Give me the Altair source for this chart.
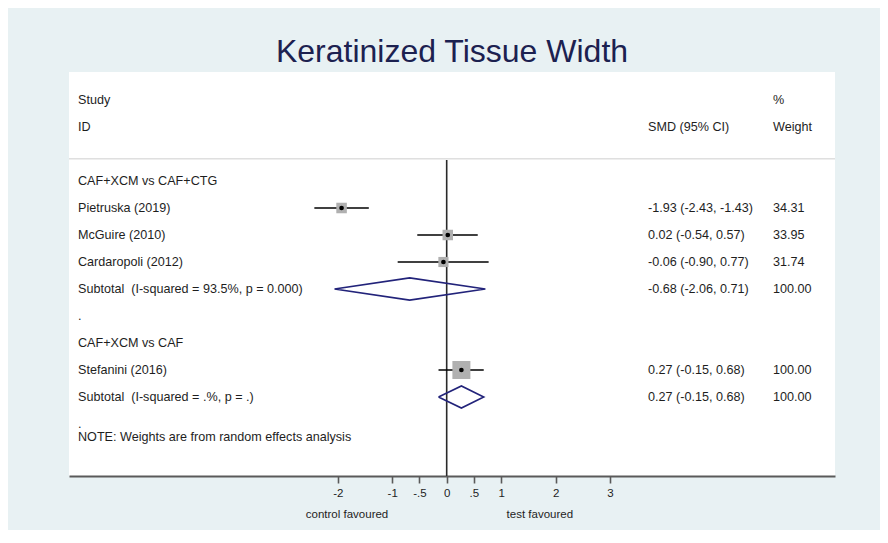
import altair as alt
import pandas as pd

# ---- data ----
title_text = "Keratinized Tissue Width"
groups = ["CAF+XCM vs CAF+CTG", "CAF+XCM vs CAF"]
studies = ["Pietruska (2019)", "McGuire (2010)", "Cardaropoli (2012)", "Stefanini (2016)"]
study_group = [0, 0, 0, 1]
smd = [-1.93, 0.02, -0.06, 0.27]
ci_lo = [-2.43, -0.54, -0.90, -0.15]
ci_hi = [-1.43, 0.57, 0.77, 0.68]
weight = [34.31, 33.95, 31.74, 100.00]

sub_labels = ["Subtotal\u00a0 (I-squared = 93.5%, p = 0.000)", "Subtotal\u00a0 (I-squared = .%, p = .)"]
sub_smd = [-0.68, 0.27]
sub_lo = [-2.06, -0.15]
sub_hi = [0.71, 0.68]
sub_weight = [100.00, 100.00]

note_text = "NOTE: Weights are from random effects analysis"
tick_values = [-2, -1, -0.5, 0, 0.5, 1, 2, 3]
tick_labels = ["-2", "-1", "-.5", "0", ".5", "1", "2", "3"]
left_caption = "control favoured"
right_caption = "test favoured"

# ---- row layout (Stata-style forest plot) ----
rows_text = [
    {"row": 0, "label": "Study", "est": "", "w": "%"},
    {"row": 1, "label": "ID", "est": "SMD (95% CI)", "w": "Weight"},
]
study_rows = []
sub_rows = []
r = 3
for g, gname in enumerate(groups):
    rows_text.append({"row": r, "label": gname, "est": "", "w": ""})
    r += 1
    for i, s in enumerate(studies):
        if study_group[i] != g:
            continue
        rows_text.append({"row": r, "label": s,
                          "est": f"{smd[i]:.2f} ({ci_lo[i]:.2f}, {ci_hi[i]:.2f})",
                          "w": f"{weight[i]:.2f}"})
        study_rows.append({"row": r, "smd": smd[i], "lo": ci_lo[i], "hi": ci_hi[i], "weight": weight[i]})
        r += 1
    rows_text.append({"row": r, "label": sub_labels[g],
                      "est": f"{sub_smd[g]:.2f} ({sub_lo[g]:.2f}, {sub_hi[g]:.2f})",
                      "w": f"{sub_weight[g]:.2f}"})
    sub_rows.append({"row": r, "g": g, "smd": sub_smd[g], "lo": sub_lo[g], "hi": sub_hi[g]})
    r += 1
    rows_text.append({"row": r, "label": ".", "est": "", "w": ""})
    r += 1
rows_text.append({"row": r - 0.5, "label": note_text, "est": "", "w": ""})

text_df = pd.DataFrame(rows_text)
study_df = pd.DataFrame(study_rows)

half = 0.41
diamond_pts = []
for d in sub_rows:
    pts = [(d["lo"], d["row"]), (d["smd"], d["row"] - half), (d["hi"], d["row"]),
           (d["smd"], d["row"] + half), (d["lo"], d["row"])]
    for k, (xx, yy) in enumerate(pts):
        diamond_pts.append({"g": d["g"], "k": k, "x": xx, "row": yy})
diamond_df = pd.DataFrame(diamond_pts)

# ---- layout ----
W, H = 766, 404
FONT = "Liberation Sans"
TXT = "#1e1e1e"
FS = 12.6

xscale = alt.Scale(domain=[-6.935, 7.13], nice=False, zero=False)
yscale = alt.Scale(domain=[-1.037, 13.926], reverse=True, nice=False, zero=False)
label_expr = "{" + ",".join(f"'{v}':'{l}'" for v, l in zip(tick_values, tick_labels)) + "}[datum.value]"
xaxis = alt.Axis(values=tick_values, labelExpr=label_expr, grid=False, title=None,
                 domainColor="#5a5a5a", domainWidth=2.2, tickColor="#5a5a5a", tickWidth=1.6,
                 tickSize=7, labelPadding=4, labelFontSize=11.5, labelColor=TXT, labelFont=FONT)
ydef = alt.Y("row:Q", scale=yscale, axis=None)

base_study = alt.Chart(study_df)

ci = base_study.mark_rule(color="#000000", strokeWidth=1.7).encode(
    x=alt.X("lo:Q", scale=xscale, axis=xaxis), x2="hi:Q", y=ydef)

squares = base_study.mark_square(color="#b0b0b0", opacity=1).encode(
    x=alt.X("smd:Q", scale=xscale, axis=xaxis), y=ydef,
    size=alt.Size("weight:Q", scale=alt.Scale(domain=[0, 100], range=[0, 324]), legend=None))

dots = base_study.mark_circle(color="#000000", size=22, opacity=1).encode(
    x=alt.X("smd:Q", scale=xscale, axis=xaxis), y=ydef)

diamonds = alt.Chart(diamond_df).mark_line(color="#22237a", strokeWidth=1.6).encode(
    x=alt.X("x:Q", scale=xscale, axis=xaxis), y=ydef, detail="g:N", order="k:Q")

zero_line = alt.Chart(pd.DataFrame({"x": [0], "row": [2.22], "row2": [13.926]})).mark_rule(
    color="#2a2a2a", strokeWidth=1.6).encode(
    x=alt.X("x:Q", scale=xscale, axis=xaxis), y=ydef, y2="row2:Q")

sep_line = alt.Chart(pd.DataFrame({"row": [2.18]})).mark_rule(
    color="#cfcfcf", strokeWidth=1).encode(
    y=ydef, x=alt.value(0), x2=alt.value(W))

txt_kw = dict(font=FONT, fontSize=FS, color=TXT, align="left", baseline="middle")
left_txt = alt.Chart(text_df).mark_text(**txt_kw).encode(
    x=alt.value(9), y=ydef, text="label:N")
est_txt = alt.Chart(text_df).mark_text(**txt_kw).encode(
    x=alt.value(579), y=ydef, text="est:N")
w_txt = alt.Chart(text_df).mark_text(**txt_kw).encode(
    x=alt.value(704), y=ydef, text="w:N")

cap_df = pd.DataFrame({"x": [-1.83, 1.71], "label": [left_caption, right_caption]})
captions = alt.Chart(cap_df).mark_text(font=FONT, fontSize=11.5, color=TXT,
                                       align="center", baseline="middle").encode(
    x=alt.X("x:Q", scale=xscale, axis=xaxis), y=alt.value(H + 39), text="label:N")

title_mark = alt.Chart(pd.DataFrame({"t": [title_text]})).mark_text(
    font=FONT, fontSize=32, color="#1c2150", align="center", baseline="alphabetic").encode(
    x=alt.value(W / 2), y=alt.value(-10), text="t:N")

chart = alt.layer(sep_line, zero_line, ci, squares, dots, diamonds,
                  left_txt, est_txt, w_txt, captions, title_mark).properties(
    width=W, height=H,
    autosize=alt.AutoSizeParams(type="none"),
    padding={"left": 61, "top": 64, "right": 45, "bottom": 54},
    background="#e8f1f3",
).configure_view(fill="white", stroke=None)

chart.save("out.html", embed_options={"renderer": "svg", "actions": False})
